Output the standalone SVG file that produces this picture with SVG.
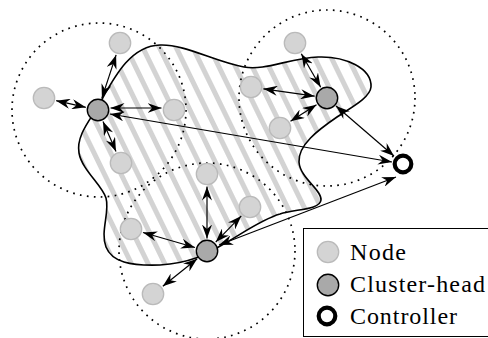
<svg xmlns="http://www.w3.org/2000/svg" width="488" height="338" viewBox="0 0 488 338">
<defs>
<pattern id="hatch" patternUnits="userSpaceOnUse" width="15" height="15" patternTransform="rotate(-26)">
<rect width="15" height="15" fill="#ffffff"/>
<rect width="5" height="15" fill="#d3d3d3"/>
</pattern>
<marker id="ah" viewBox="0 0 14 10" refX="14" refY="5" markerWidth="14" markerHeight="10" markerUnits="userSpaceOnUse" orient="auto-start-reverse">
<path d="M14,5 L0,0 L4.5,5 L0,10 Z" fill="#000"/>
</marker>
<circle id="nd" r="10.7" fill="#d4d4d4" stroke="#bababa" stroke-width="1.3"/>
<circle id="hd" r="10.7" fill="#a9a9a9" stroke="#000" stroke-width="1.4"/>
<circle id="ct" r="8.3" fill="#fff" stroke="#000" stroke-width="4.2"/>
</defs>
<rect width="488" height="338" fill="#fff"/>
<g id="region">
<path d="M97,108 C112,82 128,46 160,45 C185,44 215,62 244,67 C265,71 290,58 318,57 C345,56 372,68 371,87 C370,98 350,108 337,117 C318,130 298,145 299,162 C300,178 322,190 321,200 C320,210 295,209 280,214 C262,219 240,235 222,245 C205,255 190,263 160,265 C130,266 112,262 106,247 C100,232 110,212 106,198 C102,185 82,170 79,153 C76,136 90,120 97,108 Z" fill="url(#hatch)" stroke="#000" stroke-width="1.6"/>
</g>
<g id="ranges" fill="none" stroke="#000" stroke-width="1.7" stroke-dasharray="1.7 5.3">
<circle cx="99" cy="110" r="87"/>
<circle cx="327" cy="98" r="88"/>
<circle cx="207" cy="251" r="88"/>
</g>
<g id="connectors" fill="none" stroke="#000" stroke-width="1.2" marker-start="url(#ah)" marker-end="url(#ah)">
<line x1="101.9" y1="98.1" x2="116.1" y2="54.9"/>
<line x1="85.8" y1="107.3" x2="56.2" y2="100.7"/>
<line x1="110.5" y1="108" x2="161.5" y2="108"/>
<line x1="103" y1="121.5" x2="116" y2="151.5"/>
<line x1="110" y1="114" x2="392" y2="162"/>
<line x1="320.7" y1="87.2" x2="301.3" y2="53.8"/>
<line x1="314.6" y1="96.2" x2="263.4" y2="88.8"/>
<line x1="316.5" y1="104.7" x2="290.5" y2="121.3"/>
<line x1="336" y1="106" x2="394" y2="156"/>
<line x1="195" y1="247.5" x2="143" y2="232.5"/>
<line x1="207" y1="238.5" x2="207" y2="186.5"/>
<line x1="215.7" y1="242.1" x2="241.3" y2="215.9"/>
<line x1="197.2" y1="258.8" x2="162.8" y2="286.2"/>
<line x1="219" y1="245" x2="396" y2="177"/>
</g>
<g id="n1"><use href="#nd" x="120" y="43"/></g>
<g id="n2"><use href="#nd" x="44" y="98"/></g>
<g id="n3"><use href="#nd" x="174" y="110"/></g>
<g id="n4"><use href="#nd" x="121" y="163"/></g>
<g id="n5"><use href="#nd" x="295" y="43"/></g>
<g id="n6"><use href="#nd" x="251" y="87"/></g>
<g id="n7"><use href="#nd" x="280" y="128"/></g>
<g id="n8"><use href="#nd" x="131" y="229"/></g>
<g id="n9"><use href="#nd" x="207" y="174"/></g>
<g id="n10"><use href="#nd" x="250" y="207"/></g>
<g id="n11"><use href="#nd" x="153" y="294"/></g>
<g id="ch1"><use href="#hd" x="98" y="110"/></g>
<g id="ch2"><use href="#hd" x="327" y="98"/></g>
<g id="ch3"><use href="#hd" x="207" y="251"/></g>
<g id="controller"><use href="#ct" x="403" y="164"/></g>
<g id="legend">
<rect x="303.5" y="228.5" width="200" height="108" fill="#fff" stroke="#000" stroke-width="1"/>
<use href="#nd" x="328" y="252"/>
<use href="#hd" x="328" y="285"/>
<use href="#ct" x="327" y="316"/>
</g>
<text x="350" y="260" font-family="'Liberation Serif'" font-size="24" textLength="56" lengthAdjust="spacing">Node</text>
<text x="350" y="292" font-family="'Liberation Serif'" font-size="24" textLength="135" lengthAdjust="spacing">Cluster-head</text>
<text x="350" y="324" font-family="'Liberation Serif'" font-size="24" textLength="107" lengthAdjust="spacing">Controller</text>
</svg>
